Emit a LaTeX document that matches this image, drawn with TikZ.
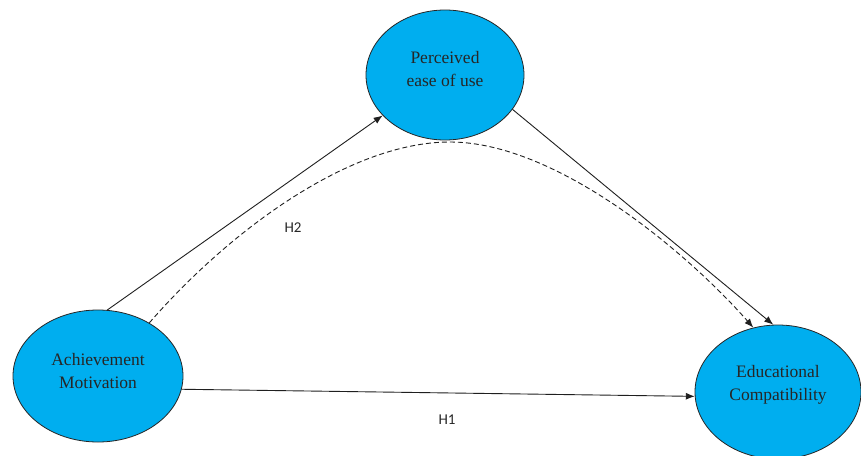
\documentclass[tikz,border=0pt]{standalone}
\usepackage{fontspec}
\setmainfont{Liberation Serif}
\newfontfamily\labfont{Carlito}
\usetikzlibrary{shapes.geometric,arrows.meta}
\definecolor{bubble}{RGB}{0,174,239}
\begin{document}
\begin{tikzpicture}[x=1pt,y=-1pt,
  construct/.style={ellipse,draw=black!85,line width=0.8pt,fill=bubble,inner sep=0pt},
  ctext/.style={align=center,inner sep=0pt,font=\fontsize{17.5}{23}\selectfont,text=black!85},
  link/.style={line width=0.9pt,draw=black!88,-{Latex[length=9pt,width=7pt]}},
  hlab/.style={font=\labfont\fontsize{15}{17}\selectfont,text=black!85}]
\fill[white] (0,0) rectangle (861,455);
\useasboundingbox (0,0) rectangle (861,455);
\node[construct,minimum width=170pt,minimum height=132pt] (am) at (98,376) {};
\node[construct,minimum width=158pt,minimum height=130pt] (pe) at (445,75) {};
\node[construct,minimum width=166pt,minimum height=134pt] (ec) at (778,392) {};
\node[ctext] (amt) at ([yshift=5pt]am.center) {Achievement\\Motivation};
\node[ctext] (pet) at ([yshift=6pt]pe.center) {Perceived\\ease of use};
\node[ctext] (ect) at ([yshift=7pt]ec.center) {Educational\\Compatibility};
\coordinate (dpeak) at (450,142);
\draw[link] (am.82) -- (pe.213);
\draw[link] (pe.333) -- (ec.94);
\draw[link] (am.351) -- (ec.183);
\draw[link,dashed,dash pattern=on 5pt off 3pt] (am.46) .. controls (230,230) and (350,142) .. (dpeak) .. controls (555,142) and (685,250) .. (ec.111);
\node[hlab] (h2) at (293,228) {H2};
\node[hlab] (h1) at (447,420) {H1};
\end{tikzpicture}
\end{document}
